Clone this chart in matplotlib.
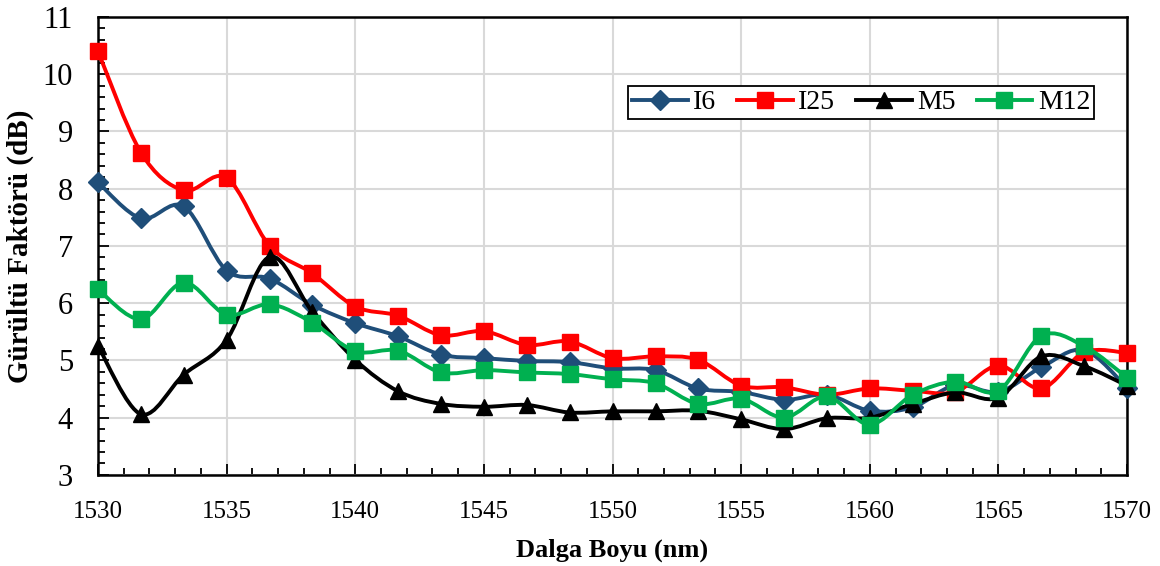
import matplotlib
matplotlib.use("Agg")
import matplotlib.pyplot as plt
from matplotlib.path import Path
from matplotlib.patches import PathPatch
from matplotlib.lines import Line2D
from matplotlib.ticker import MultipleLocator

# --- data ---
wavelength = [1530.0, 1531.67, 1533.33, 1535.0, 1536.67, 1538.33, 1540.0, 1541.67,
              1543.33, 1545.0, 1546.67, 1548.33, 1550.0, 1551.67, 1553.33, 1555.0,
              1556.67, 1558.33, 1560.0, 1561.67, 1563.33, 1565.0, 1566.67, 1568.33, 1570.0]

i6 = [8.11, 7.48, 7.69, 6.57, 6.43, 5.97, 5.65, 5.42, 5.10, 5.04, 4.99, 4.97, 4.86,
      4.83, 4.51, 4.45, 4.31, 4.40, 4.12, 4.18, 4.57, 4.45, 4.88, 5.18, 4.52]
i25 = [10.40, 8.63, 7.97, 8.19, 7.00, 6.52, 5.94, 5.78, 5.44, 5.51, 5.27, 5.33, 5.04,
       5.07, 5.01, 4.56, 4.53, 4.40, 4.51, 4.47, 4.45, 4.91, 4.51, 5.14, 5.13]
m5 = [5.25, 4.06, 4.75, 5.36, 6.81, 5.85, 5.01, 4.46, 4.24, 4.19, 4.22, 4.09, 4.11,
      4.11, 4.12, 3.97, 3.80, 3.99, 4.00, 4.24, 4.44, 4.35, 5.07, 4.90, 4.56]
m12 = [6.24, 5.72, 6.36, 5.80, 5.98, 5.66, 5.16, 5.17, 4.79, 4.83, 4.79, 4.76, 4.67,
       4.60, 4.24, 4.33, 4.00, 4.37, 3.88, 4.40, 4.63, 4.47, 5.43, 5.25, 4.70]

series = [
    ("I6", i6, "#1F4E79", "D", 10),
    ("I25", i25, "#FF0000", "s", 12),
    ("M5", m5, "#000000", "^", 12),
    ("M12", m12, "#00B050", "s", 12),
]


def smooth_path(x, y):
    """Excel-like smoothed line: cubic Bezier segments (Catmull-Rom)"""
    n = len(x)
    verts = [(x[0], y[0])]
    codes = [Path.MOVETO]
    for k in range(n - 1):
        x0, y0 = (x[k - 1], y[k - 1]) if k > 0 else (x[k], y[k])
        x3, y3 = (x[k + 2], y[k + 2]) if k + 2 < n else (x[k + 1], y[k + 1])
        c1 = (x[k] + (x[k + 1] - x0) / 6, y[k] + (y[k + 1] - y0) / 6)
        c2 = (x[k + 1] - (x3 - x[k]) / 6, y[k + 1] - (y3 - y[k]) / 6)
        verts += [c1, c2, (x[k + 1], y[k + 1])]
        codes += [Path.CURVE4] * 3
    return Path(verts, codes)


plt.rcParams["font.family"] = ["Liberation Serif", "DejaVu Serif"]

fig = plt.figure(figsize=(11.6, 5.66), dpi=100)
ax = fig.add_axes([0.0845, 0.161, 0.8871, 0.809])

handles = []
for k, (name, vals, color, marker, ms) in enumerate(series):
    patch = PathPatch(smooth_path(wavelength, vals), facecolor="none", edgecolor=color,
                      lw=2.8, zorder=3 + k, capstyle="round", joinstyle="round",
                      clip_on=False)
    ax.add_patch(patch)
    ax.plot(wavelength, vals, linestyle="none", marker=marker, markersize=ms,
            color=color, zorder=3.5 + k, clip_on=False)
    handles.append(Line2D([], [], color=color, lw=2.8, marker=marker, markersize=ms))

ax.set_xlim(1530, 1570)
ax.set_ylim(3, 11)
ax.xaxis.set_major_locator(MultipleLocator(5))
ax.xaxis.set_minor_locator(MultipleLocator(1))
ax.yaxis.set_major_locator(MultipleLocator(1))
ax.yaxis.set_minor_locator(MultipleLocator(0.2))

ax.grid(True, which="major", color="#d9d9d9", lw=1.5, zorder=0)
ax.set_axisbelow(True)
for s in ax.spines.values():
    s.set_color("black")
    s.set_linewidth(1.8)

ax.tick_params(which="both", direction="in", color="black", width=1.3)
ax.tick_params(which="major", length=8)
ax.tick_params(which="minor", length=5)
ax.tick_params(axis="y", labelsize=22, pad=18)
ax.tick_params(axis="x", labelsize=18, pad=19)

ax.set_xlabel("Dalga Boyu (nm)", fontsize=19, fontweight="bold", labelpad=11)
ax.set_ylabel("Gürültü Faktörü (dB)", fontsize=21, fontweight="bold", labelpad=6)

leg = ax.legend(handles, ["I6", "I25", "M5", "M12"], ncol=4, loc="upper left",
                bbox_to_anchor=(0.515, 0.85), fontsize=20, frameon=True, fancybox=False,
                edgecolor="black", framealpha=1, borderpad=0.15, handlelength=2.0,
                handletextpad=0.2, columnspacing=0.75, borderaxespad=0)
leg.get_frame().set_linewidth(1.3)

fig.savefig("out.png", dpi=100)
